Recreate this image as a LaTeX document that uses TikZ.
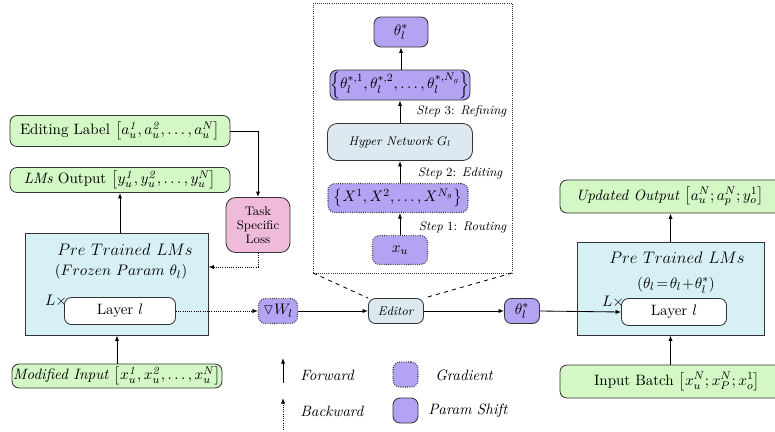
\documentclass[tikz,border=0pt]{standalone}
\usepackage{amssymb}
\usetikzlibrary{arrows.meta}
\definecolor{gfill}{HTML}{D4F7C6}
\definecolor{pfill}{HTML}{B4A2F3}
\definecolor{kfill}{HTML}{F0BADA}
\definecolor{cfill}{HTML}{D6F0F6}
\definecolor{bfill}{HTML}{DCE9F1}
\definecolor{edge}{HTML}{333333}
\begin{document}
\begin{tikzpicture}[x=0.72pt,y=-0.72pt,
  >={Latex[length=4pt,width=3pt]},
  every node/.append style={font=\fontsize{10.8}{13}\selectfont},
  sm/.style={font=\fontsize{9}{11}\selectfont},
  big/.style={font=\fontsize{12.5}{15}\selectfont},
  box/.style={draw=edge,line width=0.6pt,rounded corners=5pt,inner sep=0pt,align=center},
  gbox/.style={box,fill=gfill},
  pbox/.style={box,fill=pfill},
  gradbox/.style={box,fill=pfill,densely dotted,line width=0.8pt},
  lbox/.style={box,fill=bfill},
  wbox/.style={box,fill=white},
  flow/.style={->,line width=0.6pt,draw=black},
  back/.style={->,densely dotted,line width=0.6pt},
  lab/.style={inner sep=0pt}]
\clip (0,0) rectangle (775,432);
\useasboundingbox (0,0) rectangle (775,432);

% ---------- left column ----------
\node[gbox,minimum width=220*0.72pt,minimum height=31*0.72pt] (edlab) at (120,131)
  {Editing Label $\left[a_u^{\mathit{1}},a_u^{\mathit{2}},\ldots,a_u^N\right]$};
\node[gbox,minimum width=220*0.72pt,minimum height=25*0.72pt] (lmout) at (120,180)
  {\textit{LMs} Output $\left[y_u^{\mathit{1}},y_u^{\mathit{2}},\ldots,y_u^N\right]$};
\node[box,sm,fill=kfill,rounded corners=7pt,minimum width=64*0.72pt,minimum height=55*0.72pt] (loss) at (258,225)
  {Task\\[-1pt]Specific\\[-1pt]Loss};
\node[draw=edge,line width=0.6pt,fill=cfill,minimum width=183*0.72pt,minimum height=102*0.72pt,inner sep=0pt] (ptl) at (116.5,284) {};
\node[lab,big] (ptlA) at (125,250) {$Pre\ Trained\ LMs$};
\node[lab] (ptlB) at (121,272) {$(Frozen\ Param\ \theta_l)$};
\node[wbox,minimum width=111*0.72pt,minimum height=27*0.72pt] (layL) at (120,311) {Layer $l$};
\node[lab,anchor=east] (lxL) at ([xshift=2.5pt,yshift=-3pt]layL.north west) {$L\times$};
\node[gbox,minimum width=210*0.72pt,minimum height=24*0.72pt] (modin) at (117,376)
  {\textit{Modified Input} $\left[x_u^{\mathit{1}},x_u^{\mathit{2}},\ldots,x_u^N\right]$};

% ---------- middle ----------
\node[gradbox,minimum width=39*0.72pt,minimum height=25*0.72pt] (grad) at (278,311) {$\triangledown W_l$};
\node[lbox,sm,minimum width=55*0.72pt,minimum height=25*0.72pt] (editor) at (396,311) {\textit{Editor}};
\node[pbox,minimum width=35*0.72pt,minimum height=25*0.72pt] (tout) at (522,311) {$\theta_l^*$};

% editor frame
\coordinate (fNW) at (313,3);
\coordinate (fSE) at (512,273);
\coordinate (fSW) at (313,273);
\draw[densely dotted,line width=0.5pt,draw=black!80] (fNW) rectangle (fSE);
\draw[dashed,line width=0.6pt] (fSW) -- (editor.north west);
\draw[dashed,line width=0.6pt] (fSE) -- (editor.north east);

\node[pbox,minimum width=54*0.72pt,minimum height=30*0.72pt] (tstar) at (401,32) {$\theta_l^*$};
\node[pbox,minimum width=140*0.72pt,minimum height=30*0.72pt] (tset) at (400,85)
  {$\left\{\theta_l^{*,1},\theta_l^{*,2},\ldots,\theta_l^{*,N_g}\right\}$};
\node[lbox,sm,rounded corners=7pt,minimum width=145*0.72pt,minimum height=37*0.72pt] (hyper) at (400,142) {\textit{Hyper Network} $G_l$};
\node[gradbox,minimum width=140*0.72pt,minimum height=29*0.72pt] (xset) at (398,198)
  {$\left\{X^1,X^2,\ldots,X^{N_g}\right\}$};
\node[gradbox,minimum width=55*0.72pt,minimum height=29*0.72pt] (xu) at (400,250) {$x_u$};

\node[lab,sm,anchor=east] (s3) at (507,111) {\textit{Step} 3: \textit{Refining}};
\node[lab,sm,anchor=east] (s2) at (503,173) {\textit{Step} 2: \textit{Editing}};
\node[lab,sm,anchor=east] (s1) at (507,227) {\textit{Step} 1: \textit{Routing}};

% ---------- right column ----------
\node[gbox,minimum width=230*0.72pt,minimum height=33*0.72pt] (upd) at (675,196.5) {};
\node[lab] (updT) at (670,196.5) {\textit{Updated Output} $\left[a_u^N;a_p^N;y_o^1\right]$};
\node[draw=edge,line width=0.6pt,fill=cfill,minimum width=187*0.72pt,minimum height=93*0.72pt,inner sep=0pt] (ptr) at (670.5,288.5) {};
\node[lab,big] (ptrA) at (677,258) {$Pre\ Trained\ LMs$};
\node[lab] (ptrB) at (676,285) {$(\theta_l\!=\!\theta_l\!+\!\theta_l^*)$};
\node[wbox,minimum width=105*0.72pt,minimum height=27*0.72pt] (layR) at (674,312) {Layer $l$};
\node[lab,anchor=east] (lxR) at ([xshift=2.5pt,yshift=-3pt]layR.north west) {$L\times$};
\node[gbox,minimum width=230*0.72pt,minimum height=33*0.72pt] (inb) at (675,381.5) {};
\node[lab] (inbT) at (677,381.5) {Input Batch $\left[x_u^N;x_P^N;x_o^1\right]$};

% ---------- connectors ----------
\draw[flow] (ptl.north -| lmout.south) -- (lmout.south);
\draw[flow] (modin.north) -- (modin.north |- ptl.south);
\draw[line width=0.6pt,->] (edlab.east) -| (loss.north);
\coordinate (lb) at (loss.south |- 0,267);
\draw[back] (loss.south) -- (lb) -- (ptl.east |- lb);
\draw[back] (layL.east) -- (grad.west);
\draw[flow] (grad.east) -- (editor.west);
\draw[flow] (editor.east) -- (tout.west);
\draw[flow] (tout.east) -- (layR.west);
\draw[flow] (tset.north -| tstar.south) -- (tstar.south);
\draw[flow] (hyper.north) -- (tset.south -| hyper.north);
\draw[flow] (xset.north -| hyper.south) -- (hyper.south);
\draw[flow] (xu.north) -- (xset.south -| xu.north);
\draw[flow] (ptr.north) -- (upd.south -| ptr.north);
\draw[flow] (inb.north -| ptr.south) -- (ptr.south);

% ---------- legend ----------
\coordinate (fa) at (283,383);
\coordinate (fb) at (283,358);
\draw[flow] (fa) -- (fb);
\node[lab,anchor=west] (fwd) at (300,375) {\textit{Forward}};
\coordinate (ba) at (283,430);
\coordinate (bb) at (283,398);
\draw[back] (ba) -- (bb);
\node[lab,anchor=west] (bwd) at (300,411) {\textit{Backward}};
\node[gradbox,minimum width=25*0.72pt,minimum height=25*0.72pt] (lg) at (405.5,374.5) {};
\node[lab,anchor=west] (lgT) at (435,375) {\textit{Gradient}};
\node[pbox,minimum width=25*0.72pt,minimum height=25*0.72pt] (lp) at (405.5,410.5) {};
\node[lab,anchor=west] (lpT) at (428,411) {\textit{Param Shift}};
\end{tikzpicture}
\end{document}
